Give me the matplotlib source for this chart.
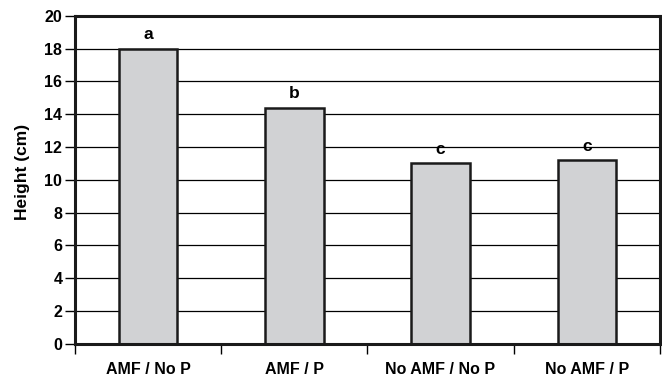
import matplotlib
matplotlib.use("Agg")
import matplotlib.pyplot as plt
import numpy as np

plt.rcParams['font.family'] = ['Liberation Sans', 'DejaVu Sans']
plt.rcParams['font.weight'] = 'bold'

# data
treatments = ["AMF / No P", "AMF / P", "No AMF / No P", "No AMF / P"]
heights = [18.0, 14.4, 11.0, 11.2]
letters = ["a", "b", "c", "c"]

fig = plt.figure(figsize=(6.62, 3.86), dpi=100)
ax = fig.add_axes([0.113, 0.109, 0.884, 0.850])

x = np.arange(len(treatments))
ax.set_axisbelow(True)
ax.yaxis.grid(True, color='black', linewidth=0.9)
ax.bar(x, heights, width=0.4, color='#d1d2d4', edgecolor='#1a1a1a', linewidth=1.8, zorder=2)

for xi, h, lab in zip(x, heights, letters):
    ax.text(xi, h + 0.4, lab, ha='center', va='bottom', fontsize=12.5, fontweight='bold')

ax.set_xlim(-0.5, len(treatments) - 0.5)
ax.set_ylim(0, 20)
ax.set_yticks(np.arange(0, 21, 2))
ax.tick_params(axis='y', labelsize=11.5, length=7, width=1, direction='out', pad=2)

# category labels between boundary ticks
ax.set_xticks(np.arange(-0.5, len(treatments), 1.0))
ax.set_xticklabels([])
ax.set_xticks(x, minor=True)
ax.set_xticklabels(treatments, minor=True, fontsize=11.5, fontweight='bold')
ax.tick_params(axis='x', which='major', length=7, width=1, direction='out')
ax.tick_params(axis='x', which='minor', length=0, pad=13)

for s in ax.spines.values():
    s.set_linewidth(2.2)
    s.set_color('#1a1a1a')

ax.set_ylabel("Height (cm)", fontsize=12.5, fontweight='bold')
ax.yaxis.set_label_coords(-0.077, 0.524)

fig.savefig("out.png", dpi=100)
